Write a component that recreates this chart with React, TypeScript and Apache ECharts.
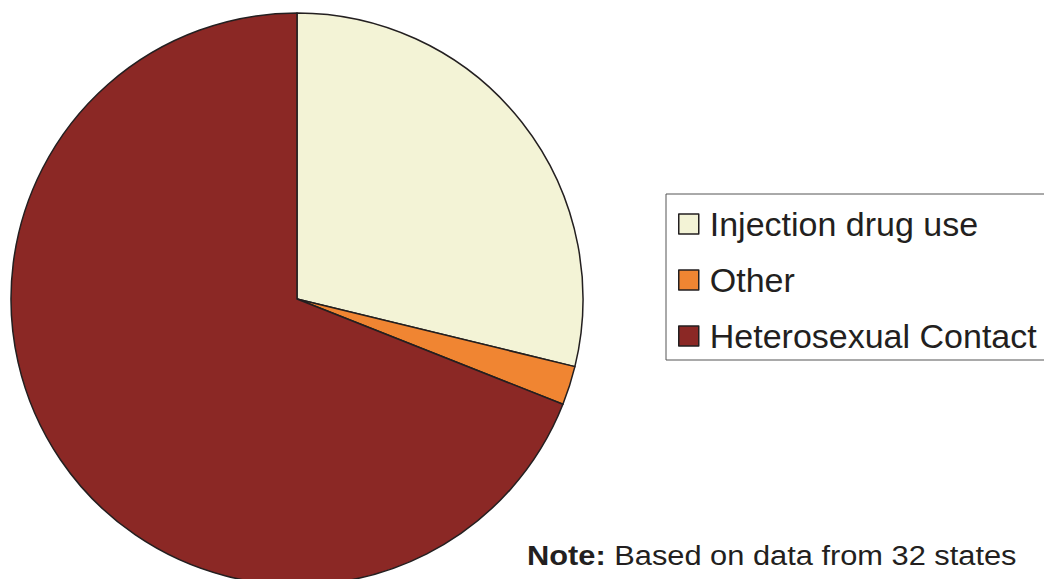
import React, { useEffect, useRef } from "react";
import * as echarts from "echarts";

const categories = ["Injection drug use", "Other", "Heterosexual Contact"];
const values = [28.8, 2.2, 69.0];
const colors = ["#f3f3d6", "#f08532", "#8b2825"];
const noteLabel = "Note:";
const noteText = " Based on data from 32 states";

export default function App() {
  const ref = useRef<HTMLDivElement>(null);
  useEffect(() => {
    document.body.style.margin = "0";
    const chart = echarts.init(ref.current!, null, { renderer: "svg" });
    chart.setOption({
      animation: false,
      backgroundColor: "#ffffff",
      legend: {
        orient: "vertical",
        left: 666,
        top: 194,
        padding: [13, 60, 7, 12],
        borderColor: "#555555",
        borderWidth: 1,
        itemWidth: 20,
        itemHeight: 20,
        itemGap: 22,
        icon: "rect",
        itemStyle: { borderColor: "#231f20", borderWidth: 1.5 },
        textStyle: {
          fontFamily: "Liberation Sans",
          fontSize: 34,
          lineHeight: 34,
          color: "#231f20",
          padding: [0, 0, 0, 6],
        },
        data: categories,
      },
      series: [
        {
          type: "pie",
          center: [297, 299],
          radius: 286,
          startAngle: 90,
          clockwise: true,
          label: { show: false },
          labelLine: { show: false },
          emphasis: { disabled: true },
          itemStyle: { borderColor: "#231f20", borderWidth: 1.5 },
          data: categories.map((name, i) => ({
            name,
            value: values[i],
            itemStyle: { color: colors[i] },
          })),
        },
      ],
      graphic: [
        {
          type: "text",
          x: 527,
          y: 541,
          scaleX: 1.1,
          style: {
            text: `{b|${noteLabel}}{n|${noteText}}`,
            rich: {
              b: { fontFamily: "Liberation Sans", fontSize: 28, fontWeight: "bold", fill: "#231f20" },
              n: { fontFamily: "Liberation Sans", fontSize: 28, fill: "#231f20" },
            },
          },
        },
      ],
    });
    return () => chart.dispose();
  }, []);
  return <div ref={ref} style={{ width: 1044, height: 579 }} />;
}
